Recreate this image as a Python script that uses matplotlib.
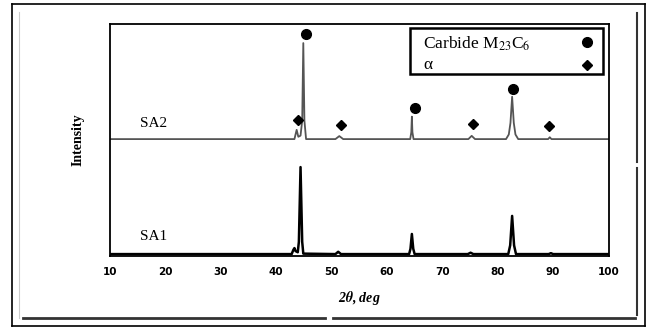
import numpy as np
import matplotlib
matplotlib.use('Agg')
import matplotlib.pyplot as plt
from matplotlib.lines import Line2D
from matplotlib.patches import Rectangle

plt.rcParams['font.family'] = ['Liberation Serif', 'DejaVu Serif']
plt.rcParams['mathtext.fontset'] = 'stix'

# SA1 pattern (vertices), intensity in arbitrary units
sa1_x = [10, 42.8, 43.1, 43.3, 43.5, 43.9, 44.1, 44.4, 44.7, 44.9, 50.7, 51.2, 51.7,
         64.0, 64.25, 64.5, 64.75, 65.0, 74.6, 75.1, 75.6, 81.9, 82.25, 82.6, 82.95, 83.3,
         89.2, 89.6, 90.0, 100]
sa1_y = [0.7, 0.7, 2.5, 3.3, 2.0, 1.5, 6, 38.3, 6, 0.9, 0.7, 1.7, 0.7,
         0.7, 3, 9.4, 3, 0.7, 0.7, 1.3, 0.7, 0.7, 4.5, 17.2, 4.5, 0.7,
         0.7, 1.1, 0.7, 0.7]

# SA2 pattern, relative to its own baseline
sa2_base = 50.4
sa2_x = [10, 43.3, 43.7, 44.0, 44.4, 44.7, 44.9, 45.1, 45.4, 50.7, 51.4, 52.1,
         64.2, 64.4, 64.5, 64.6, 64.8, 74.7, 75.3, 75.9, 81.5, 82.0, 82.3, 82.6,
         82.9, 83.2, 83.7, 89.1, 89.4, 89.7, 100]
sa2_y = [0, 0, 4, 1, 1.5, 8, 41.5, 8, 0, 0, 1.3, 0,
         0, 3, 9.7, 3, 0, 0, 1.4, 0, 0, 2, 7, 18.3,
         7, 2, 0, 0, 0.8, 0, 0]

# phase markers
carbide_x = [45.4, 65.0, 82.7]
carbide_y = [95.8, 63.8, 72.0]
alpha_x = [43.9, 51.7, 75.5, 89.3]
alpha_y = [58.6, 56.5, 56.9, 56.1]

xticks = [10, 20, 30, 40, 50, 60, 70, 80, 90, 100]

fig = plt.figure(figsize=(6.47, 3.27), dpi=100)
ax = fig.add_axes([0.170, 0.218, 0.7705, 0.7076])

ax.plot(sa1_x, sa1_y, color='black', lw=1.8)
ax.plot(sa2_x, np.array(sa2_y) + sa2_base, color='#555555', lw=1.3)
ax.plot(carbide_x, carbide_y, 'o', color='black', ms=7, ls='none')
ax.plot(alpha_x, alpha_y, 'D', color='black', ms=5.5, ls='none')

ax.text(15.4, 57.3, 'SA2', fontsize=11, va='center')
ax.text(15.4, 8.5, 'SA1', fontsize=11, va='center')

ax.set_xlim(10, 100)
ax.set_ylim(0, 100)
ax.set_xticks(xticks)
ax.set_yticks([])
ax.tick_params(axis='x', length=0, pad=8)
for lab in ax.get_xticklabels():
    lab.set_family('DejaVu Sans')
    lab.set_fontsize(7.5)
    lab.set_fontweight('bold')
for s in ax.spines.values():
    s.set_linewidth(1.3)

ax.set_xlabel('2$\\mathbfit{\\theta}$, deg', fontsize=10, fontweight='bold',
              fontstyle='italic', labelpad=9)
ax.set_ylabel('Intensity', fontsize=10, fontweight='bold', labelpad=18)

# legend box drawn by hand so text stays left and symbols right
ax.add_patch(Rectangle((0.602, 0.785), 0.387, 0.199, transform=ax.transAxes,
                       fill=False, ec='black', lw=1.8, zorder=5))
ax.text(0.628, 0.918, 'Carbide M$_{23}$C$_{6}$', transform=ax.transAxes,
        fontsize=12.5, va='center')
ax.text(0.628, 0.825, '\u03b1', transform=ax.transAxes, fontsize=12.5, va='center')
ax.plot([0.957], [0.922], 'o', color='black', ms=7, transform=ax.transAxes)
ax.plot([0.957], [0.825], 'D', color='black', ms=5.5, transform=ax.transAxes)

# scanned frame around the figure
W, H = 647.0, 327.0
def fline(x0, y0, x1, y1, lw, c='black'):
    fig.add_artist(Line2D([x0 / W, x1 / W], [1 - y0 / H, 1 - y1 / H], lw=lw, color=c))

fline(12, 4, 645, 4, 1.2)
fline(12, 4, 12, 326, 1.2)
fline(12, 326, 645, 326, 1.2)
fline(645, 4, 645, 326, 1.2)
fline(19, 12, 19, 318, 0.8, '#cccccc')
fline(23, 318, 325, 318, 2.0, '#333333')
fline(333, 318, 635, 318, 2.0, '#333333')
fline(637, 13, 637, 162, 1.5, '#333333')
fline(637, 168, 637, 315, 1.5, '#333333')

fig.savefig('out.png', dpi=100)
